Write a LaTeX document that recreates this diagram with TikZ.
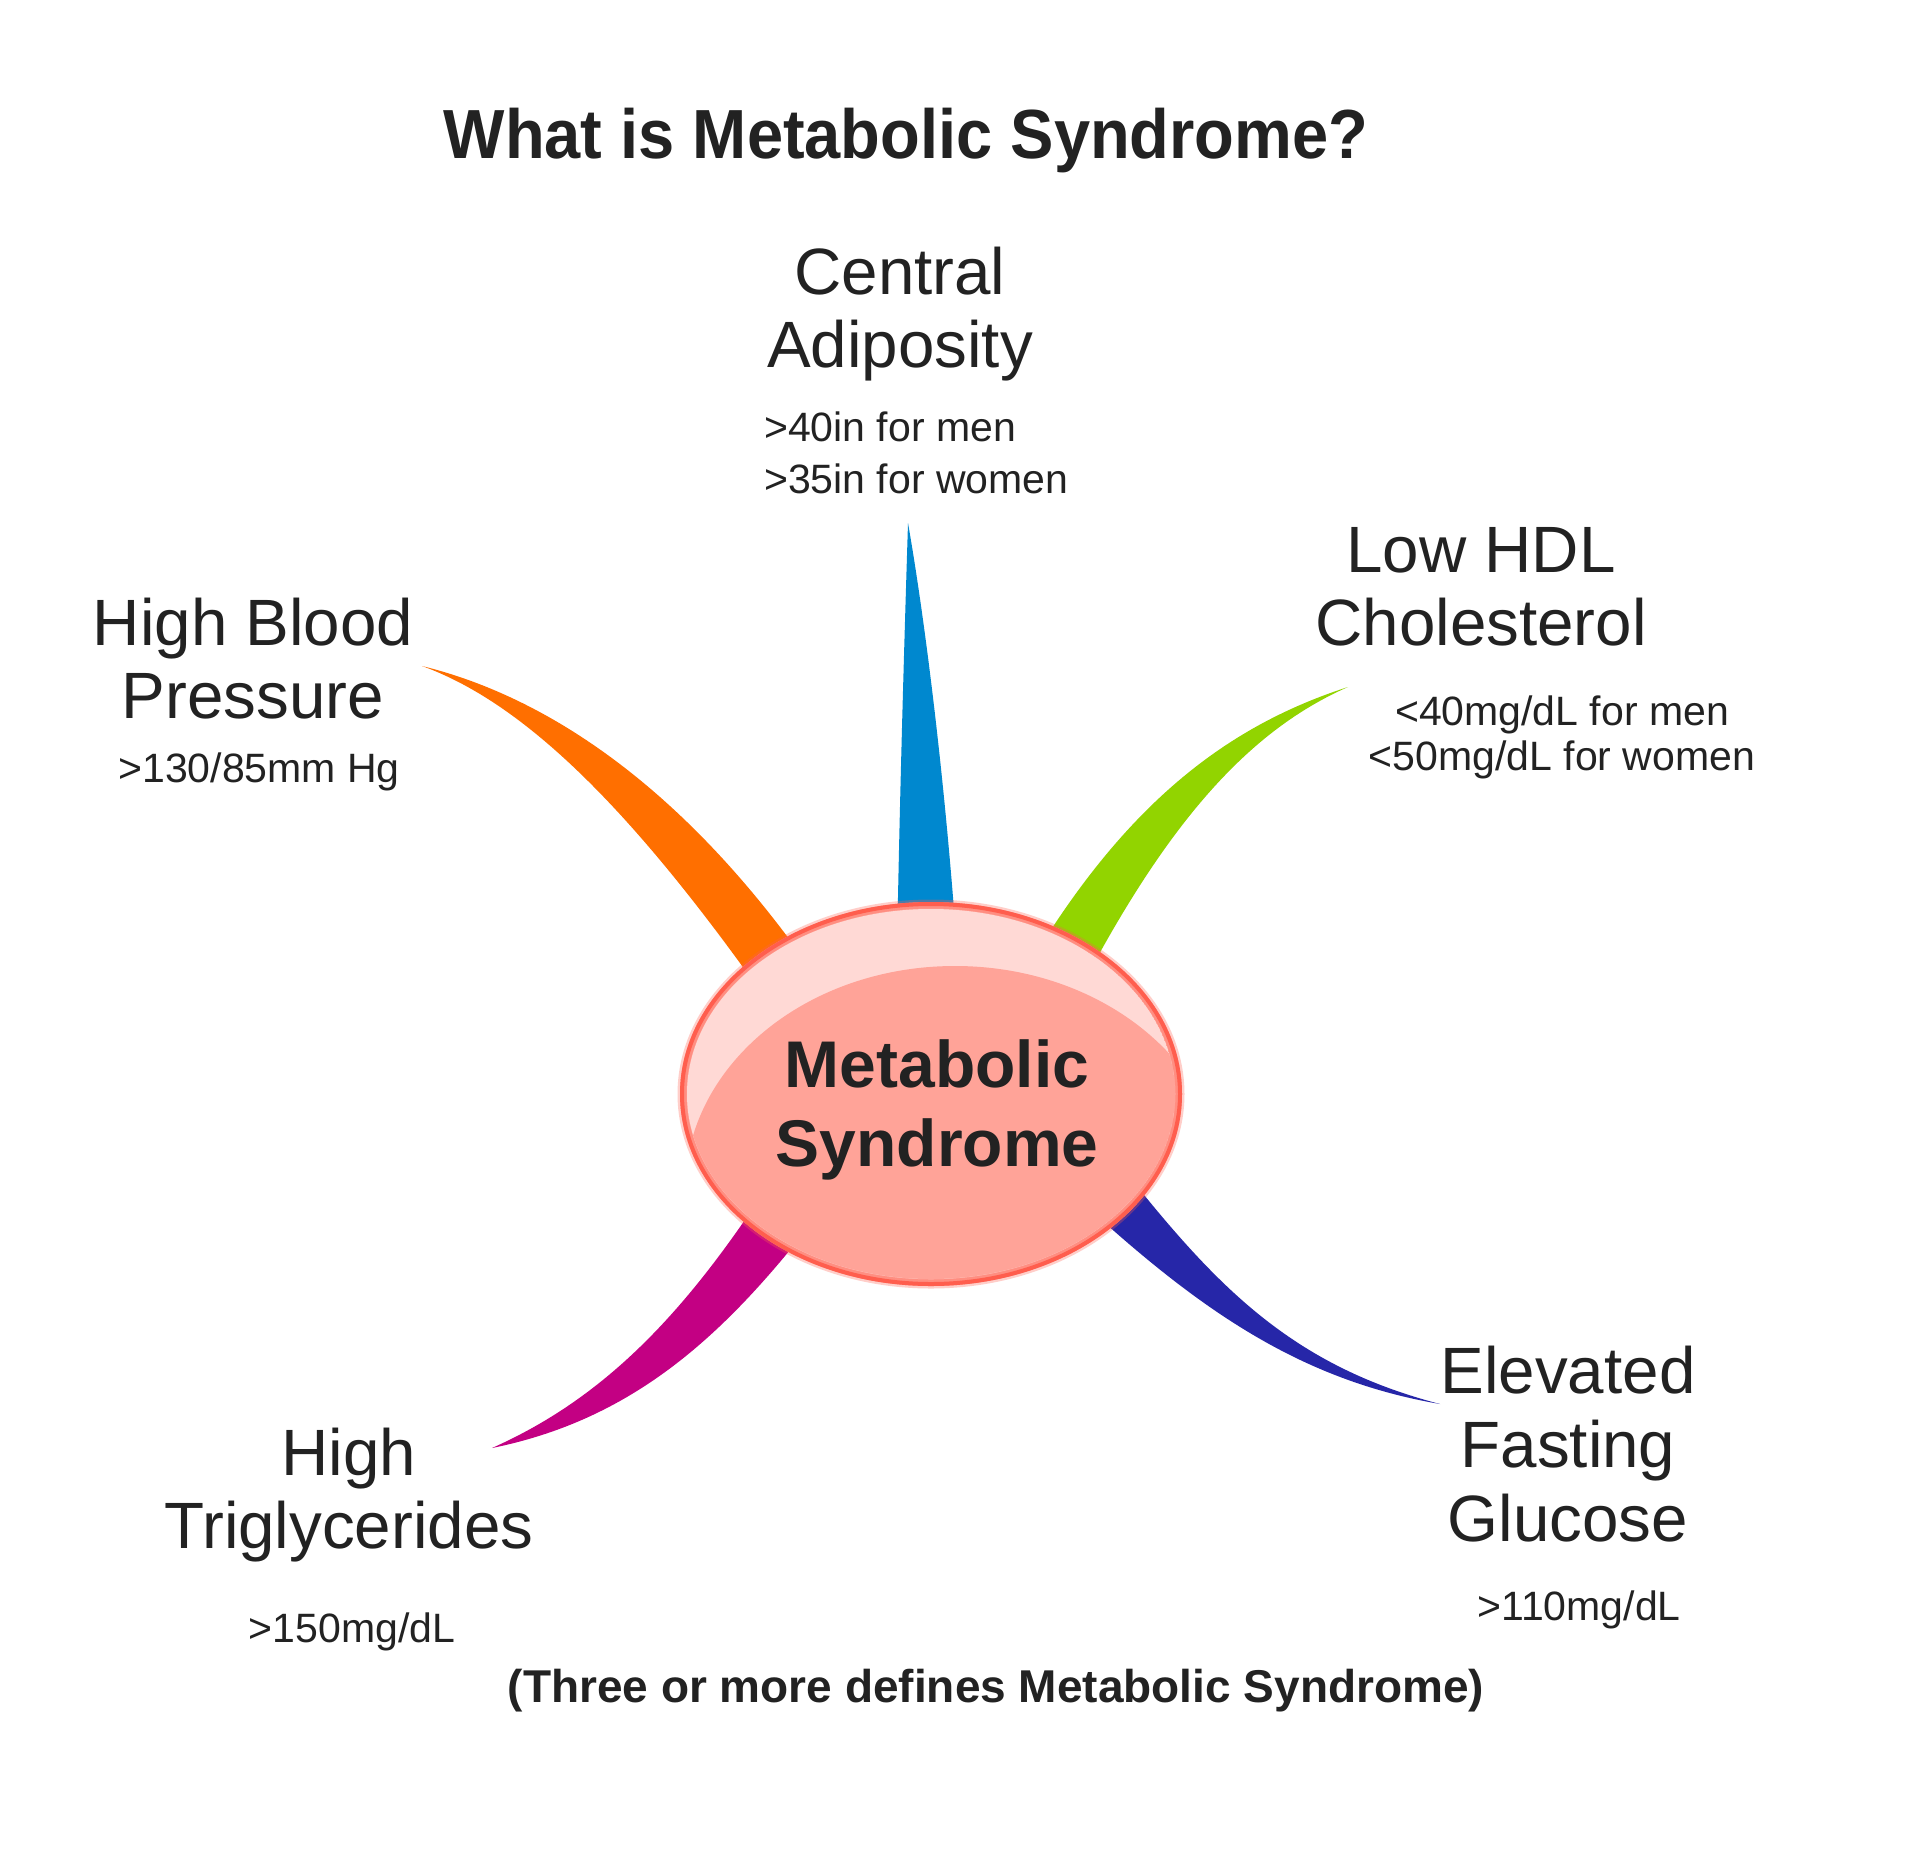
\documentclass[tikz,border=0pt]{standalone}
\usepackage{fontspec}
\setmainfont{Liberation Sans}
\definecolor{txt}{HTML}{222222}
\definecolor{cOrange}{HTML}{FF6F00}
\definecolor{cGreen}{HTML}{92D400}
\definecolor{cBlue}{HTML}{0088CF}
\definecolor{cMagenta}{HTML}{C30083}
\definecolor{cNavy}{HTML}{2626A8}
\definecolor{cBody}{HTML}{FFA398}
\definecolor{cRim}{HTML}{FF5E4E}
\definecolor{cHigh}{HTML}{FFD9D5}
\begin{document}
\begin{tikzpicture}[x=1pt,y=-1pt,
  topic/.style={font=\fontsize{65.5}{73}\selectfont, text=txt, align=center, anchor=base, inner sep=0pt},
  detail/.style={font=\fontsize{41}{46}\selectfont, text=txt, align=center, anchor=base, inner sep=0pt},
  heading/.style={font=\fontsize{65}{78}\selectfont\bfseries, text=txt, anchor=base, inner sep=0pt}]
\useasboundingbox[fill=white] (0,0) rectangle (1920,1852);

% branches
\coordinate (tipA) at (908,523);
\coordinate (tipB) at (422,666);
\coordinate (tipC) at (1348,687);
\coordinate (tipD) at (492,1448);
\coordinate (tipE) at (1440,1404);
\fill[cBlue] (tipA) .. controls (925,620) and (945,780) .. (957,950) -- (897,950) .. controls (900,780) and (905,620) .. (tipA) -- cycle;
\fill[cOrange] (tipB) .. controls (540,695) and (680,780) .. (815,975) -- (770,1005) .. controls (640,820) and (530,705) .. (tipB) -- cycle;
\fill[cGreen] (tipC) .. controls (1230,725) and (1130,800) .. (1035,955) -- (1085,980) .. controls (1170,820) and (1250,730) .. (tipC) -- cycle;
\fill[cMagenta] (tipD) .. controls (600,1400) and (680,1320) .. (765,1190) -- (810,1225) .. controls (720,1340) and (630,1420) .. (tipD) -- cycle;
\fill[cNavy] (1120,1165) .. controls (1215,1285) and (1290,1365) .. (tipE) .. controls (1300,1380) and (1200,1310) .. (1085,1205) -- cycle;

% central ellipse
\fill[cBody] (931,1094) ellipse [x radius=251, y radius=192];
\begin{scope}
  \clip (931,1094) ellipse [x radius=244, y radius=185];
  \fill[cHigh] (931,1094) ellipse [x radius=244, y radius=185];
  \fill[cBody] (955,1190) ellipse [x radius=270, y radius=224];
\end{scope}
\draw[cRim, line width=9, opacity=0.3] (931,1094) ellipse [x radius=249, y radius=190];
\draw[cRim, line width=4] (931,1094) ellipse [x radius=249, y radius=190];

% texts (multi-line nodes: base = baseline of last line)
\node[heading] (title) at (906,158) {\scalebox{1}[1.07]{What is Metabolic Syndrome?}};
\node[heading, font=\fontsize{66}{79}\selectfont\bfseries, align=center] (hub) at (937,1166) {Metabolic\\Syndrome};

\node[topic] (adip) at (900,367) {Central\\Adiposity};
\node[detail, align=left, anchor=base west, font=\fontsize{41}{52}\selectfont] (adipd) at (764,493) {>40in for men\\>35in for women};

\node[topic] (hdl) at (1481,645) {Low HDL\\Cholesterol};
\node[detail, font=\fontsize{41}{45}\selectfont] (hdld) at (1562,770) {<40mg/dL for men\\<50mg/dL for women};

\node[topic] (hbp) at (253,718) {High Blood\\Pressure};
\node[detail] (hbpd) at (259,782) {>130/85mm Hg};

\node[topic] (tg) at (349,1548) {High\\Triglycerides};
\node[detail] (tgd) at (352,1642) {>150mg/dL};

\node[topic, font=\fontsize{65.5}{74}\selectfont] (glu) at (1568,1541) {Elevated\\Fasting\\Glucose};
\node[detail] (glud) at (1579,1620) {>110mg/dL};

\node[heading, font=\fontsize{46}{55}\selectfont\bfseries] (note) at (996,1702) {(Three or more defines Metabolic Syndrome)};
\end{tikzpicture}
\end{document}
